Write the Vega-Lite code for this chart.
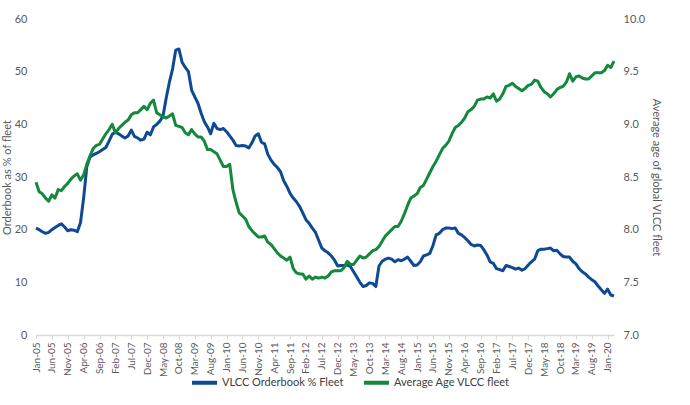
{
  "$schema": "https://vega.github.io/schema/vega-lite/v6.json",
  "width": 578,
  "height": 316,
  "autosize": "none",
  "padding": {"left": 36, "top": 19, "right": 76, "bottom": 70},
  "background": "white",
  "config": {
    "font": "Lato",
    "view": {"stroke": null},
    "axis": {
      "grid": false,
      "labelFont": "Lato",
      "titleFont": "Lato",
      "labelColor": "#595959",
      "titleColor": "#595959",
      "titleFontWeight": "normal"
    }
  },
  "data": {
    "values": [
      {"m": "Jan-05", "ob": 20.3, "age": 8.45}, {"m": "Feb-05", "ob": 20.0, "age": 8.36}, {"m": "Mar-05", "ob": 19.6, "age": 8.34}, {"m": "Apr-05", "ob": 19.3, "age": 8.30}, {"m": "May-05", "ob": 19.5, "age": 8.27}, {"m": "Jun-05", "ob": 20.0, "age": 8.33}, {"m": "Jul-05", "ob": 20.4, "age": 8.30}, {"m": "Aug-05", "ob": 20.8, "age": 8.38}, {"m": "Sep-05", "ob": 21.1, "age": 8.37}, {"m": "Oct-05", "ob": 20.5, "age": 8.41}, {"m": "Nov-05", "ob": 19.8, "age": 8.44}, {"m": "Dec-05", "ob": 20.0, "age": 8.48},
      {"m": "Jan-06", "ob": 19.9, "age": 8.51}, {"m": "Feb-06", "ob": 19.6, "age": 8.53}, {"m": "Mar-06", "ob": 21.3, "age": 8.47}, {"m": "Apr-06", "ob": 26.0, "age": 8.52}, {"m": "May-06", "ob": 32.0, "age": 8.62}, {"m": "Jun-06", "ob": 33.8, "age": 8.70}, {"m": "Jul-06", "ob": 34.2, "age": 8.77}, {"m": "Aug-06", "ob": 34.5, "age": 8.80}, {"m": "Sep-06", "ob": 34.8, "age": 8.81}, {"m": "Oct-06", "ob": 35.2, "age": 8.86}, {"m": "Nov-06", "ob": 35.6, "age": 8.91}, {"m": "Dec-06", "ob": 36.8, "age": 8.95},
      {"m": "Jan-07", "ob": 38.1, "age": 9.00}, {"m": "Feb-07", "ob": 38.5, "age": 8.92}, {"m": "Mar-07", "ob": 38.2, "age": 8.96}, {"m": "Apr-07", "ob": 37.8, "age": 8.99}, {"m": "May-07", "ob": 37.4, "age": 9.02}, {"m": "Jun-07", "ob": 37.8, "age": 9.04}, {"m": "Jul-07", "ob": 38.9, "age": 9.09}, {"m": "Aug-07", "ob": 37.7, "age": 9.11}, {"m": "Sep-07", "ob": 37.4, "age": 9.11}, {"m": "Oct-07", "ob": 37.0, "age": 9.14}, {"m": "Nov-07", "ob": 37.2, "age": 9.17}, {"m": "Dec-07", "ob": 38.5, "age": 9.14},
      {"m": "Jan-08", "ob": 38.0, "age": 9.20}, {"m": "Feb-08", "ob": 39.5, "age": 9.23}, {"m": "Mar-08", "ob": 40.0, "age": 9.11}, {"m": "Apr-08", "ob": 40.6, "age": 9.09}, {"m": "May-08", "ob": 41.6, "age": 9.07}, {"m": "Jun-08", "ob": 45.0, "age": 9.06}, {"m": "Jul-08", "ob": 48.0, "age": 9.08}, {"m": "Aug-08", "ob": 50.5, "age": 9.10}, {"m": "Sep-08", "ob": 54.1, "age": 8.99}, {"m": "Oct-08", "ob": 54.3, "age": 8.98}, {"m": "Nov-08", "ob": 51.8, "age": 8.97}, {"m": "Dec-08", "ob": 50.8, "age": 8.92},
      {"m": "Jan-09", "ob": 50.0, "age": 8.90}, {"m": "Feb-09", "ob": 46.5, "age": 8.95}, {"m": "Mar-09", "ob": 45.2, "age": 8.91}, {"m": "Apr-09", "ob": 44.0, "age": 8.88}, {"m": "May-09", "ob": 42.1, "age": 8.88}, {"m": "Jun-09", "ob": 40.5, "age": 8.84}, {"m": "Jul-09", "ob": 39.5, "age": 8.76}, {"m": "Aug-09", "ob": 38.2, "age": 8.76}, {"m": "Sep-09", "ob": 40.2, "age": 8.74}, {"m": "Oct-09", "ob": 39.2, "age": 8.72}, {"m": "Nov-09", "ob": 39.0, "age": 8.66}, {"m": "Dec-09", "ob": 39.2, "age": 8.60},
      {"m": "Jan-10", "ob": 38.6, "age": 8.60}, {"m": "Feb-10", "ob": 37.8, "age": 8.62}, {"m": "Mar-10", "ob": 37.0, "age": 8.38}, {"m": "Apr-10", "ob": 36.0, "age": 8.26}, {"m": "May-10", "ob": 35.9, "age": 8.16}, {"m": "Jun-10", "ob": 36.0, "age": 8.13}, {"m": "Jul-10", "ob": 35.9, "age": 8.10}, {"m": "Aug-10", "ob": 35.5, "age": 8.03}, {"m": "Sep-10", "ob": 36.5, "age": 7.99}, {"m": "Oct-10", "ob": 37.8, "age": 7.96}, {"m": "Nov-10", "ob": 38.2, "age": 7.93}, {"m": "Dec-10", "ob": 36.6, "age": 7.93},
      {"m": "Jan-11", "ob": 36.3, "age": 7.94}, {"m": "Feb-11", "ob": 34.3, "age": 7.88}, {"m": "Mar-11", "ob": 33.2, "age": 7.86}, {"m": "Apr-11", "ob": 32.4, "age": 7.82}, {"m": "May-11", "ob": 31.8, "age": 7.78}, {"m": "Jun-11", "ob": 31.0, "age": 7.75}, {"m": "Jul-11", "ob": 29.3, "age": 7.73}, {"m": "Aug-11", "ob": 28.2, "age": 7.71}, {"m": "Sep-11", "ob": 26.9, "age": 7.74}, {"m": "Oct-11", "ob": 26.0, "age": 7.63}, {"m": "Nov-11", "ob": 25.3, "age": 7.59}, {"m": "Dec-11", "ob": 24.4, "age": 7.58},
      {"m": "Jan-12", "ob": 23.2, "age": 7.58}, {"m": "Feb-12", "ob": 21.9, "age": 7.53}, {"m": "Mar-12", "ob": 21.2, "age": 7.56}, {"m": "Apr-12", "ob": 20.3, "age": 7.53}, {"m": "May-12", "ob": 19.5, "age": 7.55}, {"m": "Jun-12", "ob": 18.0, "age": 7.54}, {"m": "Jul-12", "ob": 16.5, "age": 7.55}, {"m": "Aug-12", "ob": 16.0, "age": 7.54}, {"m": "Sep-12", "ob": 15.6, "age": 7.56}, {"m": "Oct-12", "ob": 15.0, "age": 7.60}, {"m": "Nov-12", "ob": 14.2, "age": 7.61}, {"m": "Dec-12", "ob": 13.1, "age": 7.61},
      {"m": "Jan-13", "ob": 13.2, "age": 7.61}, {"m": "Feb-13", "ob": 13.2, "age": 7.64}, {"m": "Mar-13", "ob": 13.3, "age": 7.70}, {"m": "Apr-13", "ob": 13.0, "age": 7.67}, {"m": "May-13", "ob": 12.0, "age": 7.67}, {"m": "Jun-13", "ob": 11.0, "age": 7.71}, {"m": "Jul-13", "ob": 10.0, "age": 7.75}, {"m": "Aug-13", "ob": 9.2, "age": 7.73}, {"m": "Sep-13", "ob": 9.4, "age": 7.74}, {"m": "Oct-13", "ob": 9.9, "age": 7.77}, {"m": "Nov-13", "ob": 9.8, "age": 7.80}, {"m": "Dec-13", "ob": 9.2, "age": 7.81},
      {"m": "Jan-14", "ob": 13.1, "age": 7.84}, {"m": "Feb-14", "ob": 14.0, "age": 7.89}, {"m": "Mar-14", "ob": 14.4, "age": 7.94}, {"m": "Apr-14", "ob": 14.6, "age": 7.97}, {"m": "May-14", "ob": 14.4, "age": 8.00}, {"m": "Jun-14", "ob": 13.9, "age": 8.03}, {"m": "Jul-14", "ob": 14.3, "age": 8.03}, {"m": "Aug-14", "ob": 14.1, "age": 8.08}, {"m": "Sep-14", "ob": 14.4, "age": 8.15}, {"m": "Oct-14", "ob": 14.8, "age": 8.23}, {"m": "Nov-14", "ob": 14.0, "age": 8.30}, {"m": "Dec-14", "ob": 13.2, "age": 8.32},
      {"m": "Jan-15", "ob": 13.3, "age": 8.34}, {"m": "Feb-15", "ob": 13.9, "age": 8.40}, {"m": "Mar-15", "ob": 15.0, "age": 8.42}, {"m": "Apr-15", "ob": 15.2, "age": 8.48}, {"m": "May-15", "ob": 15.5, "age": 8.54}, {"m": "Jun-15", "ob": 17.0, "age": 8.60}, {"m": "Jul-15", "ob": 19.0, "age": 8.65}, {"m": "Aug-15", "ob": 19.3, "age": 8.71}, {"m": "Sep-15", "ob": 20.0, "age": 8.77}, {"m": "Oct-15", "ob": 20.3, "age": 8.80}, {"m": "Nov-15", "ob": 20.3, "age": 8.84}, {"m": "Dec-15", "ob": 20.2, "age": 8.91},
      {"m": "Jan-16", "ob": 20.3, "age": 8.97}, {"m": "Feb-16", "ob": 19.3, "age": 8.99}, {"m": "Mar-16", "ob": 19.0, "age": 9.02}, {"m": "Apr-16", "ob": 18.5, "age": 9.06}, {"m": "May-16", "ob": 17.9, "age": 9.12}, {"m": "Jun-16", "ob": 17.2, "age": 9.14}, {"m": "Jul-16", "ob": 16.9, "age": 9.17}, {"m": "Aug-16", "ob": 17.1, "age": 9.23}, {"m": "Sep-16", "ob": 17.0, "age": 9.24}, {"m": "Oct-16", "ob": 16.2, "age": 9.24}, {"m": "Nov-16", "ob": 15.2, "age": 9.26}, {"m": "Dec-16", "ob": 13.9, "age": 9.25},
      {"m": "Jan-17", "ob": 13.6, "age": 9.29}, {"m": "Feb-17", "ob": 12.6, "age": 9.22}, {"m": "Mar-17", "ob": 12.4, "age": 9.24}, {"m": "Apr-17", "ob": 12.2, "age": 9.29}, {"m": "May-17", "ob": 13.2, "age": 9.36}, {"m": "Jun-17", "ob": 13.0, "age": 9.37}, {"m": "Jul-17", "ob": 12.8, "age": 9.39}, {"m": "Aug-17", "ob": 12.5, "age": 9.36}, {"m": "Sep-17", "ob": 12.7, "age": 9.34}, {"m": "Oct-17", "ob": 12.3, "age": 9.32}, {"m": "Nov-17", "ob": 12.6, "age": 9.34}, {"m": "Dec-17", "ob": 13.3, "age": 9.37},
      {"m": "Jan-18", "ob": 13.9, "age": 9.38}, {"m": "Feb-18", "ob": 14.4, "age": 9.42}, {"m": "Mar-18", "ob": 16.0, "age": 9.41}, {"m": "Apr-18", "ob": 16.3, "age": 9.35}, {"m": "May-18", "ob": 16.3, "age": 9.31}, {"m": "Jun-18", "ob": 16.4, "age": 9.29}, {"m": "Jul-18", "ob": 16.5, "age": 9.26}, {"m": "Aug-18", "ob": 16.0, "age": 9.29}, {"m": "Sep-18", "ob": 16.1, "age": 9.33}, {"m": "Oct-18", "ob": 15.4, "age": 9.35}, {"m": "Nov-18", "ob": 14.9, "age": 9.36}, {"m": "Dec-18", "ob": 14.8, "age": 9.40},
      {"m": "Jan-19", "ob": 14.8, "age": 9.48}, {"m": "Feb-19", "ob": 14.0, "age": 9.41}, {"m": "Mar-19", "ob": 13.5, "age": 9.45}, {"m": "Apr-19", "ob": 12.6, "age": 9.46}, {"m": "May-19", "ob": 12.0, "age": 9.44}, {"m": "Jun-19", "ob": 11.6, "age": 9.43}, {"m": "Jul-19", "ob": 11.0, "age": 9.43}, {"m": "Aug-19", "ob": 10.5, "age": 9.46}, {"m": "Sep-19", "ob": 10.1, "age": 9.49}, {"m": "Oct-19", "ob": 9.3, "age": 9.49}, {"m": "Nov-19", "ob": 8.6, "age": 9.49}, {"m": "Dec-19", "ob": 7.9, "age": 9.51},
      {"m": "Jan-20", "ob": 8.7, "age": 9.56}, {"m": "Feb-20", "ob": 7.6, "age": 9.54}, {"m": "Mar-20", "ob": 7.4, "age": 9.60}
    ]
  },
  "encoding": {
    "x": {
      "field": "m",
      "type": "ordinal",
      "sort": null,
      "scale": {"type": "point", "padding": 0},
      "axis": {
        "title": null,
        "values": ["Jan-05", "Jun-05", "Nov-05", "Apr-06", "Sep-06", "Feb-07", "Jul-07", "Dec-07", "May-08", "Oct-08", "Mar-09", "Aug-09", "Jan-10", "Jun-10", "Nov-10", "Apr-11", "Sep-11", "Feb-12", "Jul-12", "Dec-12", "May-13", "Oct-13", "Mar-14", "Aug-14", "Jan-15", "Jun-15", "Nov-15", "Apr-16", "Sep-16", "Feb-17", "Jul-17", "Dec-17", "May-18", "Oct-18", "Mar-19", "Aug-19", "Jan-20"],
        "labelAngle": -90,
        "labelFontSize": 10,
        "labelPadding": 3,
        "tickSize": 4,
        "tickColor": "#d9d9d9",
        "domainColor": "#d9d9d9",
        "domainWidth": 1.5
      }
    }
  },
  "layer": [
    {
      "mark": {"type": "line", "strokeWidth": 3, "strokeJoin": "round"},
      "encoding": {
        "y": {
          "field": "ob",
          "type": "quantitative",
          "scale": {"domain": [0, 60]},
          "axis": {
            "orient": "left",
            "title": "Orderbook as % of fleet",
            "values": [0, 10, 20, 30, 40, 50, 60],
            "domain": false,
            "ticks": false,
            "labelPadding": 9,
            "labelFontSize": 11,
            "titleFontSize": 11,
            "titlePadding": 2
          }
        },
        "color": {
          "datum": "VLCC Orderbook % Fleet",
          "type": "nominal",
          "scale": {
            "domain": ["VLCC Orderbook % Fleet", "Average Age VLCC fleet"],
            "range": ["#0d4a93", "#14883c"]
          },
          "legend": {
            "orient": "none",
            "legendX": 154,
            "legendY": 349,
            "direction": "horizontal",
            "title": null,
            "symbolType": "stroke",
            "symbolSize": 625,
            "symbolStrokeWidth": 4,
            "labelFontSize": 11,
            "labelColor": "#404040",
            "labelOffset": 3,
            "columnPadding": 12
          }
        }
      }
    },
    {
      "mark": {"type": "line", "strokeWidth": 3, "strokeJoin": "round"},
      "encoding": {
        "y": {
          "field": "age",
          "type": "quantitative",
          "scale": {"domain": [7, 10]},
          "axis": {
            "orient": "right",
            "title": "Average age of global VLCC fleet",
            "values": [7, 7.5, 8, 8.5, 9, 9.5, 10],
            "format": ".1f",
            "domain": false,
            "ticks": false,
            "labelPadding": 9,
            "labelFontSize": 11,
            "titleFontSize": 11,
            "titlePadding": 6
          }
        },
        "color": {"datum": "Average Age VLCC fleet", "type": "nominal"}
      }
    }
  ],
  "resolve": {"scale": {"y": "independent"}}
}
